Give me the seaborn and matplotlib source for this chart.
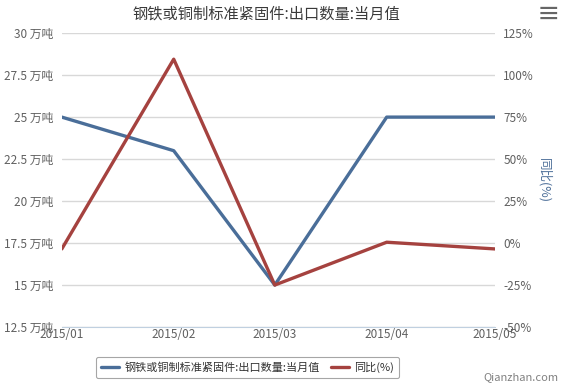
import seaborn as sns
import matplotlib.pyplot as plt
import pandas as pd

# Data
months = ["2015-01-01", "2015-02-01", "2015-03-01", "2015-04-01", "2015-05-01"]
month_labels = ["2015/01", "2015/02", "2015/03", "2015/04", "2015/05"]
export_qty = [25.0, 23.0, 15.0, 25.0, 25.0]        # 万吨
yoy_pct = [-3.5, 109.5, -25.0, 0.5, -3.5]          # %
left_ticks = [12.5, 15, 17.5, 20, 22.5, 25, 27.5, 30]
right_ticks = [-50, -25, 0, 25, 50, 75, 100, 125]

title = "钢铁或铜制标准紧固件:出口数量:当月值"
name_qty = "钢铁或铜制标准紧固件:出口数量:当月值"
name_yoy = "同比(%)"

df = pd.DataFrame({"date": pd.to_datetime(months), "qty": export_qty, "yoy": yoy_pct})

sns.set_style("white")
plt.rcParams["font.family"] = ["Noto Sans CJK SC", "DejaVu Sans"]

blue = "#4a6e99"
red = "#a5423f"
tick_color = "#606060"

fig = plt.figure(figsize=(5.67, 3.9), dpi=100)
ax = fig.add_axes([0.109, 0.1615, 0.764, 0.7535])
ax2 = ax.twinx()

sns.lineplot(data=df, x="date", y="qty", ax=ax, color=blue, linewidth=2.4, label=name_qty, legend=False, zorder=3)
sns.lineplot(data=df, x="date", y="yoy", ax=ax2, color=red, linewidth=2.4, label=name_yoy, legend=False, zorder=3)

ax.set_xlim(df["date"].iloc[0], df["date"].iloc[-1])
ax.set_ylim(12.5, 30)
ax2.set_ylim(-50, 125)
ax.set_yticks(left_ticks)
ax.set_yticklabels([f"{v:g} 万吨" for v in left_ticks])
ax2.set_yticks(right_ticks)
ax2.set_yticklabels([f"{v}%" for v in right_ticks])
ax.set_xticks(df["date"])
ax.set_xticklabels(month_labels)

ax.grid(axis="y", color="#d8d8d8", linewidth=1)
ax.set_axisbelow(True)
for a in (ax, ax2):
    for s in a.spines.values():
        s.set_visible(False)
ax.spines["bottom"].set_visible(True)
ax.spines["bottom"].set_color("#c0d0e0")
ax.tick_params(axis="y", length=0, pad=6, labelsize=8.5, labelcolor=tick_color)
ax2.tick_params(axis="y", length=0, pad=6, labelsize=8.5, labelcolor=tick_color)
ax.tick_params(axis="x", length=0, pad=1, labelsize=8.5, labelcolor=tick_color)
ax.set_xlabel("")
ax.set_ylabel("")
ax2.set_ylabel(name_yoy, rotation=270, color="#4d6f99", fontsize=9, labelpad=12)

fig.text(0.47, 0.963, title, ha="center", va="center", fontsize=11, color="#3a3a3a")
fig.text(0.967, 0.963, "≡", ha="center", va="center", fontsize=17, color="#666666", fontweight="bold")

handles = ax.get_lines()[:1] + ax2.get_lines()[:1]
leg = fig.legend(handles, [name_qty, name_yoy], loc="center", bbox_to_anchor=(0.437, 0.058),
                 ncol=2, frameon=True, fontsize=8, handlelength=1.6, columnspacing=1.0,
                 handletextpad=0.5, borderpad=0.45, fancybox=True)
leg.get_frame().set_edgecolor("#909090")
leg.get_frame().set_linewidth(0.8)
for t in leg.get_texts():
    t.set_color("#333333")

fig.text(0.985, 0.02, "Qianzhan.com", ha="right", va="bottom", fontsize=8, color="#808080")

plt.savefig("out.png", dpi=100)
plt.close()
